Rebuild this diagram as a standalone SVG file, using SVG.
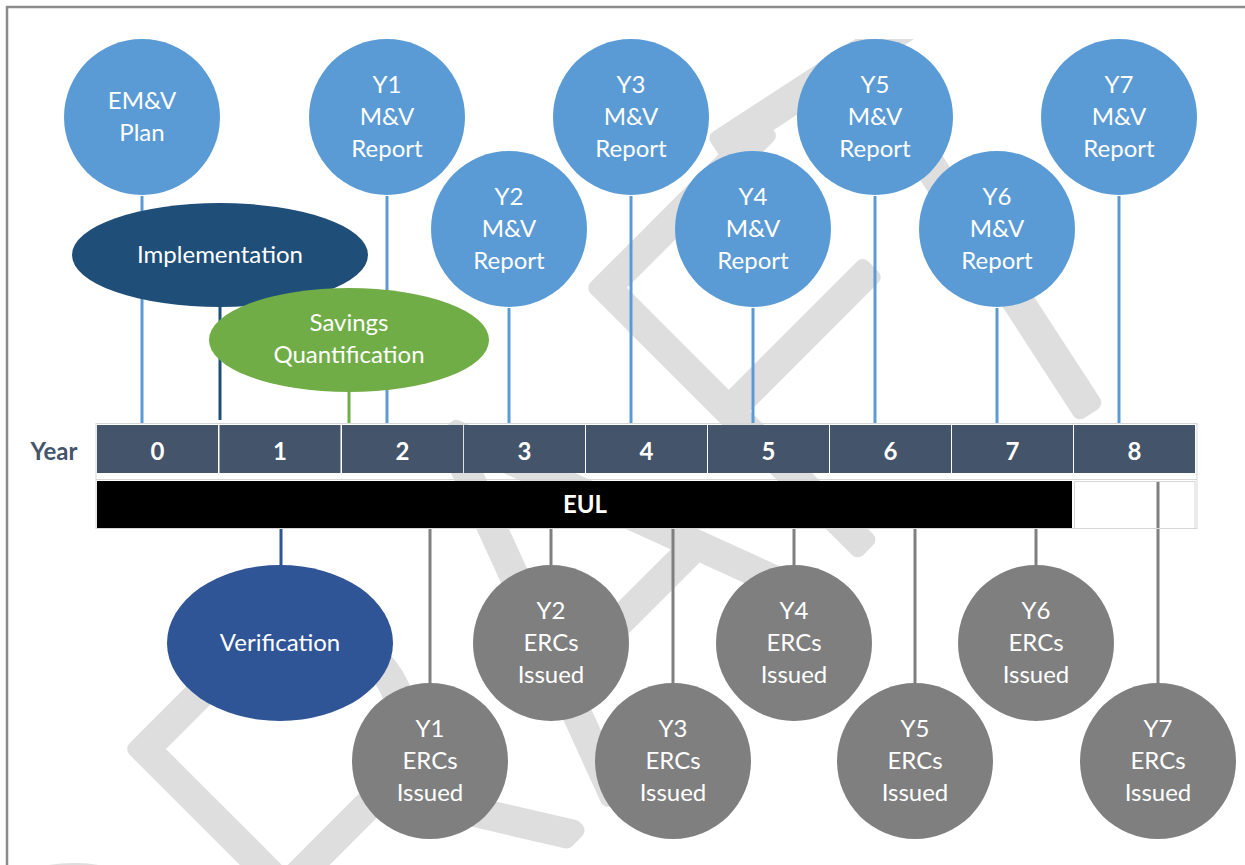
<svg xmlns="http://www.w3.org/2000/svg" width="1245" height="865" viewBox="0 0 1245 865">
<style>
.t{font-family:Lato,"Open Sans","Liberation Sans",sans-serif;font-size:24px;fill:#fff;text-anchor:middle}
.b{font-weight:bold}
.blue{fill:#5b9bd5}
.grey{fill:#7f7f7f}
.lb{stroke:#5b9bd5;stroke-width:3}
.lg{stroke:#7f7f7f;stroke-width:3}
.cell{fill:#44546a}
.wm{font-family:Roboto,Lato,sans-serif;font-weight:100;font-size:520px;fill:#dedede;stroke:#dedede;stroke-width:16;stroke-linejoin:round}
</style>
<defs>
<clipPath id="wmclip"><rect x="8" y="39" width="1237" height="826"/></clipPath>
</defs>
<rect x="0" y="0" width="1245" height="865" fill="#fff"/>
<rect x="7" y="7" width="1250" height="870" fill="none" stroke="#8c8c8c" stroke-width="2.5"/>
<g id="watermark" clip-path="url(#wmclip)">
<text class="wm" transform="translate(121,1286) rotate(-45)">DRAF<tspan x="1129" y="24" rotate="12" style="font-size:600px">T</tspan></text>
</g>
<g id="connectors" fill="none">
<line class="lb" x1="142" y1="196" x2="142" y2="424"/>
<line class="lb" x1="387" y1="196" x2="387" y2="424"/>
<line class="lb" x1="509" y1="308" x2="509" y2="424"/>
<line class="lb" x1="631" y1="196" x2="631" y2="424"/>
<line class="lb" x1="753" y1="308" x2="753" y2="424"/>
<line class="lb" x1="875" y1="196" x2="875" y2="424"/>
<line class="lb" x1="997" y1="308" x2="997" y2="424"/>
<line class="lb" x1="1119" y1="196" x2="1119" y2="424"/>
<line x1="220" y1="300" x2="220" y2="420" stroke="#1f4e79" stroke-width="3"/>
<line x1="349" y1="385" x2="349" y2="424" stroke="#70ad47" stroke-width="3"/>
<line x1="281" y1="528" x2="281" y2="570" stroke="#2f5597" stroke-width="3"/>
<line class="lg" x1="430" y1="528" x2="430" y2="684"/>
<line class="lg" x1="551" y1="528" x2="551" y2="566"/>
<line class="lg" x1="673" y1="528" x2="673" y2="684"/>
<line class="lg" x1="794" y1="528" x2="794" y2="566"/>
<line class="lg" x1="915" y1="528" x2="915" y2="684"/>
<line class="lg" x1="1036" y1="528" x2="1036" y2="566"/>
<line class="lg" x1="1158" y1="481" x2="1158" y2="684"/>
</g>
<g id="timeline">
<rect x="96" y="423.5" width="1101" height="105" fill="none" stroke="#d6d6d6" stroke-width="1"/>
<line x1="96" y1="479.5" x2="1197" y2="479.5" stroke="#d6d6d6" stroke-width="1"/>
<rect class="cell" x="97" y="425" width="121" height="48"/>
<rect class="cell" x="219.5" y="425" width="121" height="48"/>
<rect class="cell" x="342" y="425" width="121" height="48"/>
<rect class="cell" x="464" y="425" width="121" height="48"/>
<rect class="cell" x="586" y="425" width="121" height="48"/>
<rect class="cell" x="708" y="425" width="121" height="48"/>
<rect class="cell" x="830" y="425" width="121" height="48"/>
<rect class="cell" x="952" y="425" width="121" height="48"/>
<rect class="cell" x="1074" y="425" width="121" height="48"/>
<text class="t b" x="157.5" y="460">0</text>
<text class="t b" x="280" y="460">1</text>
<text class="t b" x="402.5" y="460">2</text>
<text class="t b" x="524.5" y="460">3</text>
<text class="t b" x="646.5" y="460">4</text>
<text class="t b" x="768.5" y="460">5</text>
<text class="t b" x="890.5" y="460">6</text>
<text class="t b" x="1012.5" y="460">7</text>
<text class="t b" x="1134.5" y="460">8</text>
<text class="t b" x="54" y="460" style="fill:#44546a">Year</text>
</g>
<g id="eul">
<rect x="97" y="481" width="975" height="47" fill="#000"/>
<rect x="1074.5" y="481.5" width="120.5" height="47" fill="none" stroke="#d6d6d6" stroke-width="1"/>
<text class="t b" x="585" y="513">EUL</text>
</g>
<g id="emv-plan"><circle class="blue" cx="142" cy="117" r="78"/><text class="t" x="142" y="109">EM&amp;V</text><text class="t" x="142" y="141">Plan</text></g>
<g id="implementation"><ellipse cx="220" cy="255" rx="148" ry="52" fill="#1f4e79"/><text class="t" x="220" y="263">Implementation</text></g>
<g id="savings"><ellipse cx="349" cy="340" rx="140" ry="52" fill="#70ad47"/><text class="t" x="349" y="331">Savings</text><text class="t" x="349" y="363">Quantification</text></g>
<g id="y1-mv"><circle class="blue" cx="387" cy="117" r="78"/><text class="t" x="387" y="93">Y1</text><text class="t" x="387" y="125">M&amp;V</text><text class="t" x="387" y="157">Report</text></g>
<g id="y2-mv"><circle class="blue" cx="509" cy="229" r="78"/><text class="t" x="509" y="205">Y2</text><text class="t" x="509" y="237">M&amp;V</text><text class="t" x="509" y="269">Report</text></g>
<g id="y3-mv"><circle class="blue" cx="631" cy="117" r="78"/><text class="t" x="631" y="93">Y3</text><text class="t" x="631" y="125">M&amp;V</text><text class="t" x="631" y="157">Report</text></g>
<g id="y4-mv"><circle class="blue" cx="753" cy="229" r="78"/><text class="t" x="753" y="205">Y4</text><text class="t" x="753" y="237">M&amp;V</text><text class="t" x="753" y="269">Report</text></g>
<g id="y5-mv"><circle class="blue" cx="875" cy="117" r="78"/><text class="t" x="875" y="93">Y5</text><text class="t" x="875" y="125">M&amp;V</text><text class="t" x="875" y="157">Report</text></g>
<g id="y6-mv"><circle class="blue" cx="997" cy="229" r="78"/><text class="t" x="997" y="205">Y6</text><text class="t" x="997" y="237">M&amp;V</text><text class="t" x="997" y="269">Report</text></g>
<g id="y7-mv"><circle class="blue" cx="1119" cy="117" r="78"/><text class="t" x="1119" y="93">Y7</text><text class="t" x="1119" y="125">M&amp;V</text><text class="t" x="1119" y="157">Report</text></g>
<g id="verification"><ellipse cx="280" cy="643" rx="113" ry="78" fill="#2f5597"/><text class="t" x="280" y="651">Verification</text></g>
<g id="y1-erc"><circle class="grey" cx="430" cy="761" r="78"/><text class="t" x="430" y="737">Y1</text><text class="t" x="430" y="769">ERCs</text><text class="t" x="430" y="801">Issued</text></g>
<g id="y2-erc"><circle class="grey" cx="551" cy="643" r="78"/><text class="t" x="551" y="619">Y2</text><text class="t" x="551" y="651">ERCs</text><text class="t" x="551" y="683">Issued</text></g>
<g id="y3-erc"><circle class="grey" cx="673" cy="761" r="78"/><text class="t" x="673" y="737">Y3</text><text class="t" x="673" y="769">ERCs</text><text class="t" x="673" y="801">Issued</text></g>
<g id="y4-erc"><circle class="grey" cx="794" cy="643" r="78"/><text class="t" x="794" y="619">Y4</text><text class="t" x="794" y="651">ERCs</text><text class="t" x="794" y="683">Issued</text></g>
<g id="y5-erc"><circle class="grey" cx="915" cy="761" r="78"/><text class="t" x="915" y="737">Y5</text><text class="t" x="915" y="769">ERCs</text><text class="t" x="915" y="801">Issued</text></g>
<g id="y6-erc"><circle class="grey" cx="1036" cy="643" r="78"/><text class="t" x="1036" y="619">Y6</text><text class="t" x="1036" y="651">ERCs</text><text class="t" x="1036" y="683">Issued</text></g>
<g id="y7-erc"><circle class="grey" cx="1158" cy="761" r="78"/><text class="t" x="1158" y="737">Y7</text><text class="t" x="1158" y="769">ERCs</text><text class="t" x="1158" y="801">Issued</text></g>
</svg>
